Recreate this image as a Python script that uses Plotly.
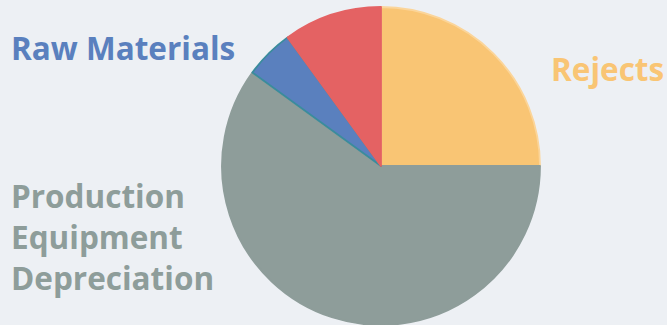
import plotly.graph_objects as go

# Cost breakdown shares (percent)
categories = ["Rejects", "Production Equipment Depreciation", "Raw Materials", "Labor"]
values = [25, 60, 5, 10]
colors = ["#F9C574", "#8E9D9A", "#5A80BE", "#E46263"]
edge_colors = ["#FBD59A", "#8E9D9A", "#3A8C9C", "#E46263"]

W, H = 667, 325
cx, cy, r = 381, 166, 159

fig = go.Figure(go.Pie(
    labels=categories,
    values=values,
    sort=False,
    direction="clockwise",
    rotation=0,
    marker=dict(colors=colors, line=dict(color=edge_colors, width=1.8)),
    textinfo="none",
    hoverinfo="label+percent",
    showlegend=False,
    domain=dict(x=[(cx - r) / W, (cx + r) / W], y=[(H - cy - r) / H, (H - cy + r) / H]),
))

font_family = "Open Sans, Noto Sans, sans-serif"

def label(text, x, y, color, anchor="left"):
    fig.add_annotation(
        text=f"<b>{text}</b>", x=x / W, y=1 - y / H, xref="paper", yref="paper",
        xanchor=anchor, yanchor="middle", showarrow=False, align="left",
        font=dict(family=font_family, size=31.5, color=color),
    )

label("Raw Materials", 9, 48, colors[2])
label("Rejects", 549, 68, colors[0])
label("Production<br>Equipment<br>Depreciation", 9, 236, colors[1])

fig.update_layout(
    width=W, height=H,
    margin=dict(l=0, r=0, t=0, b=0),
    paper_bgcolor="#EDF0F4",
    plot_bgcolor="#EDF0F4",
)

fig.write_html("out.html")
